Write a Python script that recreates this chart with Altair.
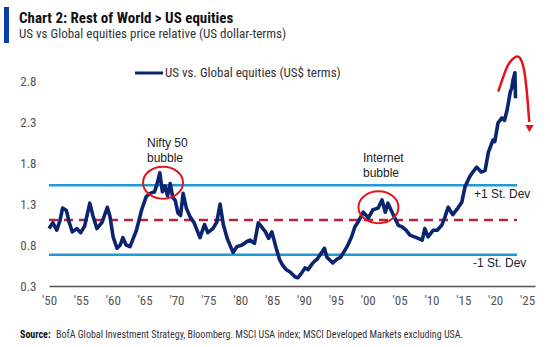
import altair as alt
import pandas as pd

# ---------------- data ----------------
years = [
    1950.0, 1950.61, 1951.22, 1951.73, 1952.13, 1952.74, 1953.15, 1953.66, 1954.37, 1954.98,
    1955.59, 1956.40, 1956.91, 1957.52, 1958.34, 1959.15, 1959.56, 1960.06, 1960.67, 1961.18,
    1961.59, 1962.10, 1962.71, 1963.22, 1963.72, 1964.54, 1965.25, 1965.86, 1966.57, 1967.08,
    1967.38, 1967.79, 1968.20, 1968.60, 1969.01, 1969.42, 1969.82, 1970.23, 1970.64, 1971.04,
    1971.55, 1972.16, 1972.77, 1973.69, 1974.40, 1974.91, 1975.72, 1976.33, 1976.84, 1977.35,
    1977.96, 1978.87, 1979.48, 1980.30, 1981.01, 1981.52, 1982.23, 1982.84, 1983.35, 1983.96,
    1984.46, 1984.97, 1985.58, 1986.19, 1986.60, 1987.21, 1987.82, 1988.63, 1989.04, 1989.65,
    1990.16, 1990.67, 1991.38, 1992.09, 1992.80, 1993.21, 1993.61, 1994.53, 1995.24, 1995.75,
    1996.76, 1997.48, 1997.98, 1998.49, 1999.31, 2000.12, 2000.83, 2001.64, 2002.25, 2002.76,
    2003.17, 2003.88, 2004.80, 2005.41, 2006.02, 2006.63, 2007.64, 2008.56, 2008.96, 2009.47,
    2010.29, 2010.90, 2011.61, 2012.12, 2012.62, 2013.34, 2014.15, 2014.76, 2015.27, 2015.98,
    2016.49, 2017.10, 2017.81, 2018.42, 2018.93, 2019.64, 2019.94, 2020.45, 2021.06, 2021.47,
    2021.88, 2022.38, 2022.59, 2022.79, 2023.10, 2023.20,
]
values = [
    1.00, 1.07, 0.98, 1.10, 1.25, 1.22, 1.08, 0.96, 1.00, 0.95,
    1.03, 1.31, 1.15, 1.00, 1.08, 1.26, 1.15, 0.90, 0.76, 0.80,
    0.89, 0.80, 0.78, 0.88, 0.98, 1.23, 1.39, 1.43, 1.45, 1.58,
    1.68, 1.45, 1.52, 1.40, 1.55, 1.38, 1.34, 1.19, 1.16, 1.43,
    1.25, 1.14, 1.07, 0.89, 1.05, 0.95, 1.00, 1.08, 1.30, 1.05,
    0.88, 0.71, 0.78, 0.80, 0.84, 0.86, 0.82, 1.07, 1.02, 0.96,
    0.88, 0.96, 0.78, 0.62, 0.56, 0.50, 0.47, 0.41, 0.40, 0.46,
    0.52, 0.50, 0.58, 0.63, 0.71, 0.76, 0.65, 0.58, 0.63, 0.65,
    0.78, 0.90, 1.02, 1.08, 1.20, 1.13, 1.23, 1.25, 1.35, 1.20,
    1.31, 1.19, 1.04, 1.02, 0.98, 0.92, 0.89, 0.86, 1.00, 0.90,
    0.98, 0.98, 1.04, 1.14, 1.26, 1.17, 1.25, 1.32, 1.51, 1.63,
    1.69, 1.75, 1.69, 1.71, 1.93, 2.08, 2.06, 2.29, 2.35, 2.32,
    2.45, 2.67, 2.71, 2.81, 2.90, 2.59,
]

band_levels = [1.53, 0.68]        # +1 / -1 standard deviation
mean_level = [1.105]
band_start, band_end = 1950.0, 2023.42

x_ticks = [1950, 1955, 1960, 1965, 1970, 1975, 1980, 1985, 1990, 1995, 2000, 2005, 2010, 2015, 2020, 2025]
y_ticks = [0.3, 0.8, 1.3, 1.8, 2.3, 2.8]

bubble_x = [1967.89, 2001.69]
bubble_y = [1.56, 1.26]

label_text = ["Nifty 50\nbubble", "Internet\nbubble", "+1 St. Dev", "-1 St. Dev"]
label_x = [1965.37, 1999.26, 2016.68, 2016.52]
label_y = [2.00, 1.81, 1.37, 0.53]

arrow_x = [2020.49, 2021.27, 2022.06, 2023.11, 2023.89, 2024.52, 2024.94, 2025.20, 2025.35]
arrow_y = [2.67, 2.85, 3.00, 3.09, 3.08, 2.94, 2.69, 2.45, 2.30]
arrowhead_x = [2025.38]
arrowhead_y = [2.22]

# ---------------- styles ----------------
NARROW = "Liberation Sans Narrow, Arial Narrow, Roboto Condensed, sans-serif"
NAVY = "#0b2470"
LIGHTBLUE = "#1f9ad6"
DARKRED = "#b3263c"
RED = "#e5141b"

xs = alt.Scale(domain=[1950, 2026.25], nice=False, zero=False)
ys = alt.Scale(domain=[0.3, 2.8], nice=False, zero=False)

x_axis = alt.Axis(values=x_ticks, labelExpr="\"'\" + substring(toString(datum.value), 2)",
                  grid=False, ticks=False, domain=True, domainColor="#555555", domainWidth=1.5,
                  labelFont=NARROW, labelFontSize=13, labelColor="#555555", labelPadding=8,
                  labelFlush=False, labelOverlap=False, title=None)
y_axis = alt.Axis(values=y_ticks, format=".1f", grid=False, ticks=False, domain=False,
                  labelFont=NARROW, labelFontSize=13, labelColor="#555555", labelPadding=13,
                  labelOverlap=False, title=None)


def X(field):
    return alt.X(field, scale=xs, axis=x_axis, title=None)


def Y(field):
    return alt.Y(field, scale=ys, axis=y_axis, title=None)


series = pd.DataFrame({"year": years, "value": values})
bands = pd.DataFrame({"level": band_levels, "start": band_start, "end": band_end})
mean = pd.DataFrame({"level": mean_level, "start": band_start, "end": band_end})
bubbles = pd.DataFrame({"year": bubble_x, "value": bubble_y})
labels = pd.DataFrame({"t": label_text, "year": label_x, "value": label_y})
arrow = pd.DataFrame({"year": arrow_x, "value": arrow_y, "o": range(len(arrow_x))})
head = pd.DataFrame({"year": arrowhead_x, "value": arrowhead_y})
one = pd.DataFrame({"a": [0]})

band_layer = alt.Chart(bands).mark_rule(color=LIGHTBLUE, strokeWidth=2.5).encode(
    x=X("start:Q"), x2="end:Q", y=Y("level:Q")
)
mean_layer = alt.Chart(mean).mark_rule(color=DARKRED, strokeWidth=2.5, strokeDash=[9, 6]).encode(
    x=X("start:Q"), x2="end:Q", y=Y("level:Q")
)
line_layer = alt.Chart(series).mark_line(color=NAVY, strokeWidth=3.6, strokeJoin="round").encode(
    x=X("year:Q"), y=Y("value:Q")
)
ellipse = "M -1 0 A 1 0.8 0 1 1 1 0 A 1 0.8 0 1 1 -1 0 Z"
bubble_layer = alt.Chart(bubbles).mark_point(
    shape=ellipse, size=1600, filled=False, color=RED, strokeWidth=2, opacity=1
).encode(x=X("year:Q"), y=Y("value:Q"))

text_layer = alt.Chart(labels).mark_text(
    align="left", baseline="alphabetic", font="Liberation Sans, Arial, sans-serif",
    fontSize=12, color="#222222", lineBreak="\n", lineHeight=15
).encode(x=X("year:Q"), y=Y("value:Q"), text="t:N")

arrow_layer = alt.Chart(arrow).mark_line(color=RED, strokeWidth=2.5, interpolate="cardinal").encode(
    x=X("year:Q"), y=Y("value:Q"), order="o:Q"
)
head_layer = alt.Chart(head).mark_point(
    shape="triangle-down", size=70, filled=True, color=RED, opacity=1
).encode(x=X("year:Q"), y=Y("value:Q"))

# legend (manual)
legend_line = alt.Chart(one).mark_rule(color=NAVY, strokeWidth=3).encode(
    x=alt.value(86), x2=alt.value(114), y=alt.value(-8)
)
legend_text = alt.Chart(one).mark_text(
    align="left", baseline="middle", font=NARROW, fontSize=13, color="#333333",
    text="US vs. Global equities (US$ terms)"
).encode(x=alt.value(116), y=alt.value(-8))

# title block
title_bar = alt.Chart(one).mark_rect(color="#0a3ea8").encode(
    x=alt.value(-45), x2=alt.value(-40), y=alt.value(-74), y2=alt.value(-38)
)
title_text = alt.Chart(one).mark_text(
    align="left", baseline="alphabetic", font=NARROW, fontSize=15, fontWeight="bold",
    color="#111111", text="Chart 2: Rest of World > US equities"
).encode(x=alt.value(-30), y=alt.value(-58))
subtitle_text = alt.Chart(one).mark_text(
    align="left", baseline="alphabetic", font=NARROW, fontSize=13, color="#333333",
    text="US vs Global equities price relative (US dollar-terms)"
).encode(x=alt.value(-30), y=alt.value(-43))

# source
source_bold = alt.Chart(one).mark_text(
    align="left", baseline="alphabetic", font=NARROW, fontSize=10, fontWeight="bold",
    color="#111111", text="Source:"
).encode(x=alt.value(-29), y=alt.value(257))
source_text = alt.Chart(one).mark_text(
    align="left", baseline="alphabetic", font=NARROW, fontSize=10, color="#333333",
    text="BofA Global Investment Strategy, Bloomberg. MSCI USA index; MSCI Developed Markets excluding USA."
).encode(x=alt.value(7), y=alt.value(257))

chart = alt.layer(
    band_layer, mean_layer, line_layer, bubble_layer, text_layer, arrow_layer, head_layer,
    legend_line, legend_text, title_bar, title_text, subtitle_text, source_bold, source_text,
).properties(
    width=486, height=205,
    autosize=alt.AutoSizeParams(type="none"),
    padding={"left": 49, "top": 81, "right": 15, "bottom": 61},
    background="white",
).configure_view(stroke=None)

chart.save("out.html", embed_options={"renderer": "svg", "actions": False})
